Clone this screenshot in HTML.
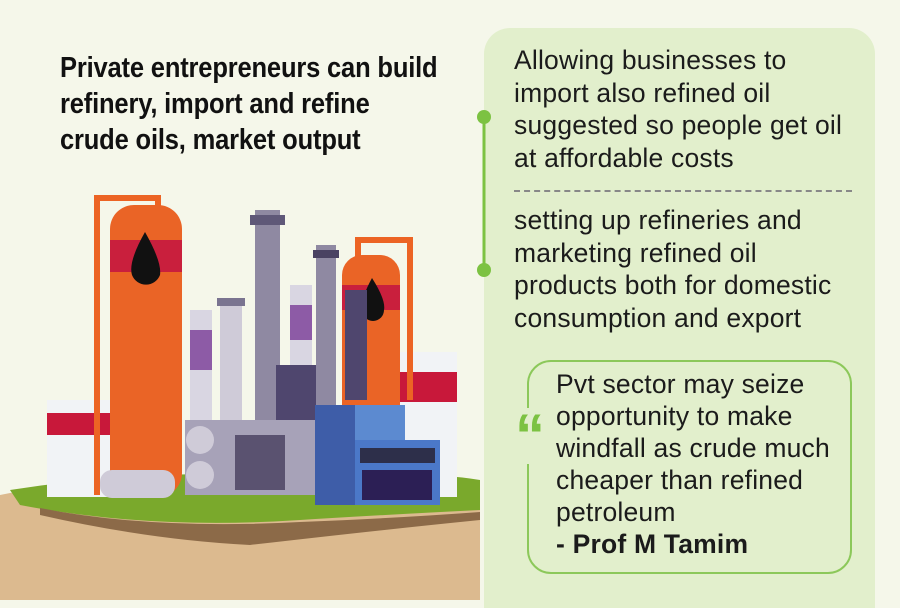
<!DOCTYPE html>
<html><head><style>
body{margin:0;width:900px;height:600px;overflow:hidden;background:#f5f7ea;font-family:"Liberation Sans",sans-serif;position:relative}
.t{position:absolute;left:60px;top:50px;font-size:29px;line-height:36px;color:#111;transform:scaleX(.88);transform-origin:0 0;white-space:nowrap;font-weight:bold;letter-spacing:-.2px}
.panel{position:absolute;left:484px;top:28px;width:391px;height:580px;background:#e2efcc;border-radius:26px 26px 0 0}
.p{position:absolute;left:514px;font-size:26.5px;line-height:32.5px;color:#1b1b1b;white-space:nowrap;letter-spacing:.2px}
.q{position:absolute;left:527px;top:360px;width:321px;height:210px;border:2px solid #8cc85a;border-radius:24px}
</style></head><body>
<div class="t">Private entrepreneurs can build<br>refinery, import and refine<br>crude oils, market output</div>
<svg width="480" height="600" style="position:absolute;left:0;top:0">
<path d="M0 495 Q120 470 240 478 Q380 472 480 485 L480 600 L0 600Z" fill="#dcba8f"/>
<path d="M10 490 Q150 468 300 476 Q420 470 480 480 L480 510 Q380 515 300 520 Q150 530 20 505Z" fill="#7aa92c"/>
<path d="M40 508 Q150 530 300 522 Q400 518 480 512 L480 520 Q380 530 250 545 Q150 540 40 515Z" fill="#8c6a48"/>
<rect x="47" y="400" width="63" height="97" fill="#f1f3f6"/><rect x="47" y="413" width="63" height="22" fill="#c8183a"/>
<rect x="400" y="352" width="57" height="145" fill="#f1f3f6"/><rect x="400" y="372" width="57" height="30" fill="#c8183a"/>
<path d="M97 495 V198 H158 V215" fill="none" stroke="#ec6424" stroke-width="6"/>
<rect x="110" y="205" width="72" height="292" rx="24" fill="#ea6426"/>
<rect x="110" y="240" width="72" height="32" fill="#c91f3d"/>
<path d="M145 232 Q128 262 132 275 A15 15 0 0 0 160 275 Q162 262 145 232Z" fill="#111"/>
<path d="M358 495 V240 H410 V400" fill="none" stroke="#ec6424" stroke-width="6"/>
<rect x="342" y="255" width="58" height="240" rx="20" fill="#ea6426"/>
<rect x="342" y="285" width="58" height="25" fill="#c91f3d"/>
<path d="M372 278 Q360 300 362 310 A11 11 0 0 0 384 310 Q386 300 372 278Z" fill="#111"/>
<rect x="190" y="310" width="22" height="180" fill="#d9d6e2"/><rect x="190" y="330" width="22" height="40" fill="#8d5ba6"/>
<rect x="220" y="300" width="22" height="190" fill="#cfcbd8"/><rect x="217" y="298" width="28" height="8" fill="#7a7490"/>
<rect x="255" y="210" width="25" height="275" fill="#8f89a2"/><rect x="250" y="215" width="35" height="10" fill="#5f5878"/>
<rect x="290" y="285" width="22" height="100" fill="#d9d6e2"/><rect x="290" y="305" width="22" height="35" fill="#8d5ba6"/>
<rect x="316" y="245" width="20" height="240" fill="#8f89a2"/><rect x="313" y="250" width="26" height="8" fill="#4a4262"/>
<rect x="345" y="290" width="22" height="110" fill="#4f466e"/>
<rect x="276" y="365" width="40" height="55" fill="#4f466e"/>
<rect x="185" y="420" width="140" height="75" fill="#a7a2b8"/>
<circle cx="200" cy="440" r="14" fill="#cfcbd8"/><circle cx="200" cy="475" r="14" fill="#cfcbd8"/>
<rect x="235" y="435" width="50" height="55" fill="#5a5270"/>
<rect x="100" y="470" width="75" height="28" rx="12" fill="#cfcbd8"/>
<rect x="315" y="405" width="60" height="100" fill="#3e5da8"/>
<rect x="355" y="405" width="50" height="55" fill="#5c8ad0"/>
<rect x="355" y="440" width="85" height="65" fill="#4b78c8"/>
<rect x="360" y="448" width="75" height="15" fill="#2d2f4a"/>
<rect x="362" y="470" width="70" height="30" fill="#2c1f55"/>
</svg>
<div class="panel"></div>
<svg width="20" height="200" style="position:absolute;left:475px;top:105px"><line x1="9" y1="12" x2="9" y2="165" stroke="#7cc242" stroke-width="3"/><circle cx="9" cy="12" r="7" fill="#7cc242"/><circle cx="9" cy="165" r="7" fill="#7cc242"/></svg>
<div class="p" style="top:44px">Allowing businesses to<br>import also refined oil<br>suggested so people get oil<br>at affordable costs</div>
<div style="position:absolute;left:514px;top:190px;width:338px;border-top:2px dashed #888"></div>
<div class="p" style="top:204px">setting up refineries and<br>marketing refined oil<br>products both for domestic<br>consumption and export</div>
<div class="q"></div>
<div style="position:absolute;left:513px;top:408px;font-size:60px;font-weight:bold;color:#7cc242;font-family:'Liberation Sans',sans-serif;background:#e2efcc;line-height:56px;padding:0 2px">“</div>
<div class="p" style="left:556px;top:368px;line-height:32px">Pvt sector may seize<br>opportunity to make<br>windfall as crude much<br>cheaper than refined<br>petroleum<br><b>- Prof M Tamim</b></div>
</body></html>
